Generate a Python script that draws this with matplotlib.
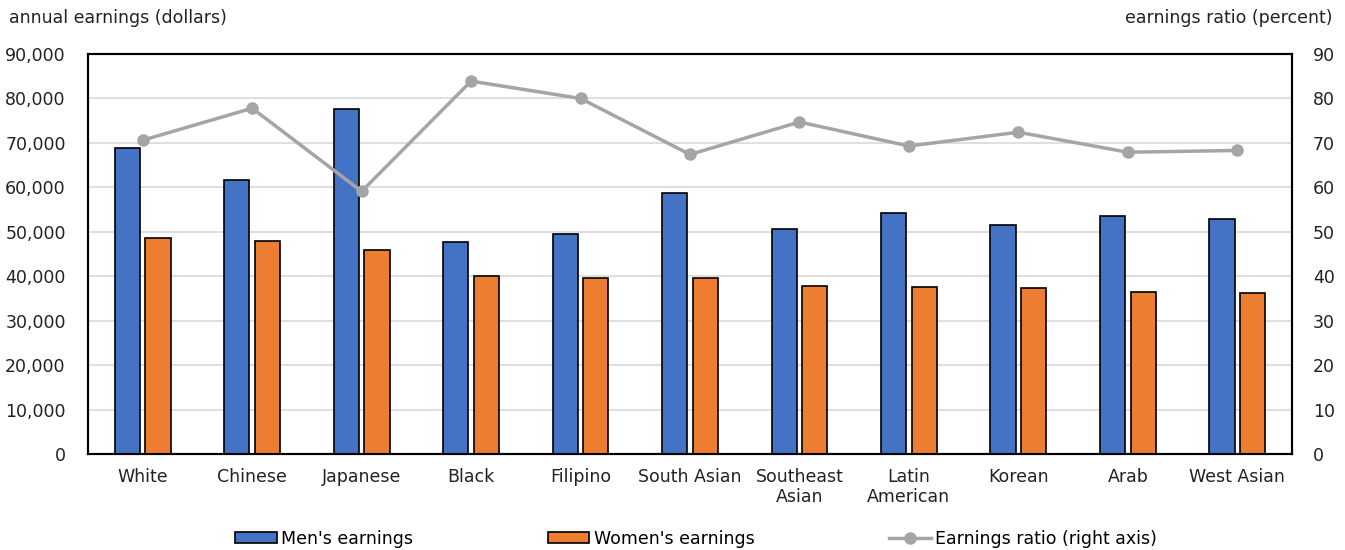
import numpy as np
import matplotlib.pyplot as plt
from matplotlib.ticker import FuncFormatter

groups = ['White', 'Chinese', 'Japanese', 'Black', 'Filipino', 'South Asian',
          'Southeast\nAsian', 'Latin\nAmerican', 'Korean', 'Arab', 'West Asian']
men = [68800, 61600, 77600, 47700, 49500, 58700, 50600, 54200, 51500, 53600, 52900]
women = [48600, 47900, 45900, 40000, 39600, 39500, 37800, 37600, 37300, 36400, 36200]
ratio = [70.6, 77.8, 59.1, 83.9, 80.0, 67.4, 74.7, 69.3, 72.4, 67.9, 68.3]

plt.rcParams['font.family'] = 'DejaVu Sans'
plt.rcParams['font.size'] = 12.5

fig = plt.figure(figsize=(13.45, 5.5), dpi=100)
ax = fig.add_axes([0.0654, 0.1745, 0.8952, 0.7273])
x = np.arange(len(groups))
w = 0.23

ax.bar(x - 0.14, men, w, color='#4472C4', edgecolor='black', linewidth=1.2,
       label="Men's earnings", zorder=3)
ax.bar(x + 0.14, women, w, color='#ED7D31', edgecolor='black', linewidth=1.2,
       label="Women's earnings", zorder=3)

ax.set_xlim(-0.5, len(groups) - 0.5)
ax.set_ylim(0, 90000)
ax.set_yticks(np.arange(0, 90001, 10000))
ax.yaxis.set_major_formatter(FuncFormatter(lambda v, p: f'{int(v):,}'))
ax.set_xticks(x)
ax.set_xticklabels(groups, linespacing=1.15)
ax.tick_params(axis='both', length=0, colors='#222222')
ax.tick_params(axis='y', pad=16)
ax.tick_params(axis='x', pad=10)
ax.grid(axis='y', color='#D9D9D9', linewidth=1.2, zorder=0)
ax.set_axisbelow(True)
for s in ax.spines.values():
    s.set_linewidth(1.5)
    s.set_color('black')

ax2 = ax.twinx()
ax2.plot(x, ratio, color='#A5A5A5', linewidth=2.5, marker='o', markersize=8,
         label='Earnings ratio (right axis)', zorder=4)
ax2.set_ylim(0, 90)
ax2.set_yticks(np.arange(0, 91, 10))
ax2.tick_params(axis='y', length=0, pad=15, colors='#222222')
for s in ax2.spines.values():
    s.set_linewidth(1.5)

fig.text(0.007, 0.967, 'annual earnings (dollars)', ha='left', va='center', color='#222222')
fig.text(0.991, 0.967, 'earnings ratio (percent)', ha='right', va='center', color='#222222')

h1, l1 = ax.get_legend_handles_labels()
h2, l2 = ax2.get_legend_handles_labels()
fig.legend(h1 + h2, l1 + l2, loc='center', bbox_to_anchor=(0.5175, 0.02), ncol=3,
           frameon=False, columnspacing=7.75, handlelength=2.4, handletextpad=0.25,
           handleheight=0.6)

fig.savefig('out.png', dpi=100)
